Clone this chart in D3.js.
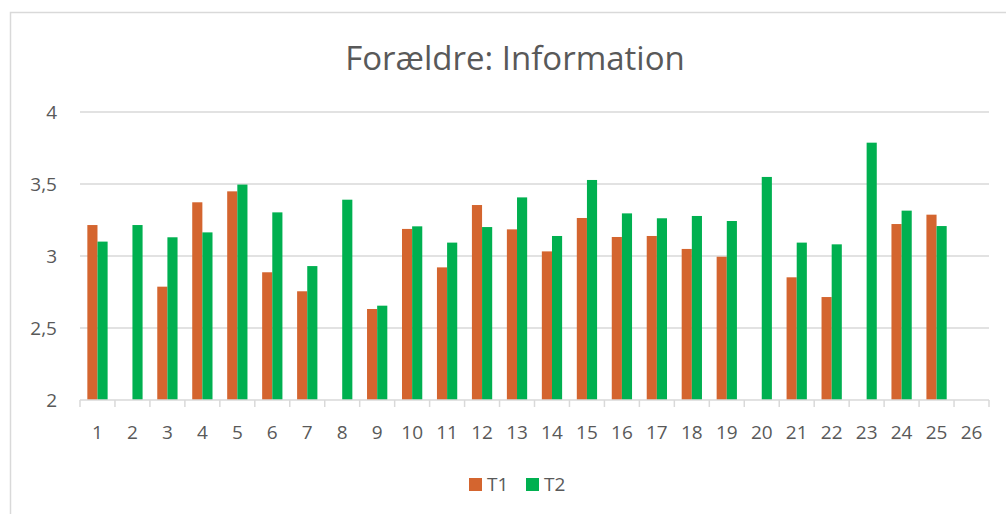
<!DOCTYPE html>
<html>
<head>
<meta charset="utf-8">
<script src="https://cdn.jsdelivr.net/npm/d3@7"></script>
<style>
  body { margin: 0; background: #fff; }
  text { font-family: "Open Sans", "DejaVu Sans", sans-serif; fill: #595959; }
</style>
</head>
<body>
<div id="chart"></div>
<script>
// values (null = no bar)
var categories = d3.range(1, 27).map(String);
var seriesNames = ["T1", "T2"];
var t1 = [3.215, null, 2.787, 3.373, 3.449, 2.887, 2.755, null, 2.632, 3.188,
          2.921, 3.354, 3.185, 3.032, 3.264, 3.132, 3.139, 3.049, 2.995, null,
          2.852, 2.715, null, 3.222, 3.287, null];
var t2 = [3.10, 3.215, 3.13, 3.164, 3.496, 3.303, 2.93, 3.391, 2.655, 3.206,
          3.093, 3.201, 3.407, 3.139, 3.528, 3.296, 3.262, 3.278, 3.243, 3.549,
          3.093, 3.081, 3.787, 3.315, 3.208, null];
var yTicks = [2, 2.5, 3, 3.5, 4];
var colors = {T1: "#D4652F", T2: "#00B050"};

var W = 1006, H = 514;
var margin = {top: 112, right: 17, bottom: 114, left: 80};
var width = W - margin.left - margin.right,
    height = H - margin.top - margin.bottom;

var svg = d3.select("#chart").append("svg")
    .attr("width", W).attr("height", H);

// chart area border
svg.append("rect")
    .attr("x", 10.5).attr("y", 12.5)
    .attr("width", W + 20).attr("height", H + 20)
    .attr("fill", "none").attr("stroke", "#d9d9d9").attr("stroke-width", 1.5);

svg.append("text")
    .attr("x", 515).attr("y", 70)
    .attr("text-anchor", "middle")
    .style("font-size", "33px")
    .text("Forældre: Information");

var g = svg.append("g")
    .attr("transform", "translate(" + margin.left + "," + margin.top + ")");

var x0 = d3.scaleBand().domain(categories).range([0, width]).padding(0);
var bw = x0.bandwidth();
var barW = bw * 0.29;
var x1 = d3.scaleBand().domain(seriesNames).range([bw / 2 - barW, bw / 2 + barW]).padding(0);
var y = d3.scaleLinear().domain([2, 4]).range([height, 0]);

// gridlines
g.selectAll(".grid").data(yTicks.slice(1)).enter().append("line")
    .attr("x1", 0).attr("x2", width)
    .attr("y1", function(d) { return y(d); }).attr("y2", function(d) { return y(d); })
    .attr("stroke", "#d9d9d9").attr("stroke-width", 1.5);

// y labels
g.selectAll(".ylab").data(yTicks).enter().append("text")
    .attr("x", -23).attr("y", function(d) { return y(d); })
    .attr("dy", "0.35em")
    .attr("text-anchor", "end")
    .style("font-size", "19px")
    .text(function(d) { return String(d).replace(".", ","); });

// bars
var rows = categories.map(function(c, i) { return {cat: c, T1: t1[i], T2: t2[i]}; });
var cg = g.selectAll(".cat").data(rows).enter().append("g")
    .attr("transform", function(d) { return "translate(" + x0(d.cat) + ",0)"; });
cg.selectAll("rect")
    .data(function(d) {
      return seriesNames.filter(function(s) { return d[s] != null; })
        .map(function(s) { return {key: s, value: d[s]}; });
    })
    .enter().append("rect")
    .attr("x", function(d) { return x1(d.key); })
    .attr("width", x1.bandwidth())
    .attr("y", function(d) { return y(d.value); })
    .attr("height", function(d) { return height - y(d.value); })
    .attr("fill", function(d) { return colors[d.key]; });

// x axis
var xAxis = g.append("g").attr("transform", "translate(0," + height + ")");
xAxis.append("line").attr("x1", 0).attr("x2", width)
    .attr("stroke", "#d9d9d9").attr("stroke-width", 1.5);
xAxis.selectAll(".tick").data(d3.range(categories.length + 1)).enter().append("line")
    .attr("x1", function(i) { return i * bw; }).attr("x2", function(i) { return i * bw; })
    .attr("y1", 0).attr("y2", 7)
    .attr("stroke", "#d9d9d9").attr("stroke-width", 1.5);
xAxis.selectAll(".xlab").data(categories).enter().append("text")
    .attr("x", function(d) { return x0(d) + bw / 2; })
    .attr("y", 39)
    .attr("text-anchor", "middle")
    .style("font-size", "19px")
    .text(function(d) { return d; });

// legend
var legend = svg.append("g").attr("transform", "translate(469,478)");
var items = legend.selectAll("g").data(seriesNames).enter().append("g")
    .attr("transform", function(d, i) { return "translate(" + (i * 57) + ",0)"; });
items.append("rect").attr("width", 13).attr("height", 13)
    .attr("fill", function(d) { return colors[d]; });
items.append("text").attr("x", 18).attr("y", 13)
    .style("font-size", "19px")
    .text(function(d) { return d; });
</script>
</body>
</html>
